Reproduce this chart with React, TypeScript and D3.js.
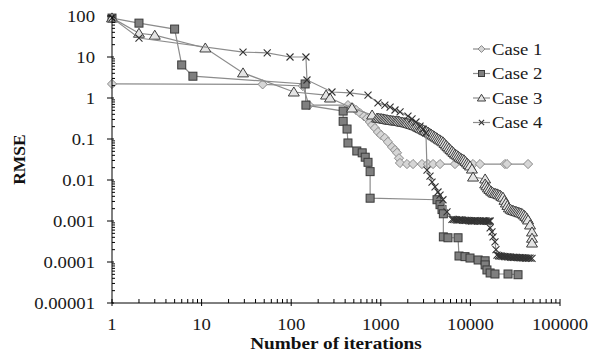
import React, { useEffect, useRef } from 'react';
import * as d3 from 'd3';

// [iterations, RMSE]
const case1: [number, number][] = [
  [1, 2.2], [48, 2.15], [135, 1.96], [158, 0.67], [430, 0.67], [477, 0.6], [530, 0.51],
  [586, 0.43], [650, 0.36], [700, 0.32], [757, 0.26], [800, 0.22], [861, 0.185], [930, 0.148],
  [1005, 0.125], [1110, 0.106], [1200, 0.085], [1333, 0.064], [1440, 0.054], [1516, 0.046],
  [1596, 0.034], [1637, 0.026], [1960, 0.0245], [2290, 0.0245], [2880, 0.0245], [3360, 0.0245],
  [3830, 0.0245], [4580, 0.0245], [6730, 0.0245], [10700, 0.0245], [12800, 0.0245],
  [24300, 0.0245], [25600, 0.0245], [44000, 0.0245],
];

const case2: [number, number][] = [
  [1, 89], [2, 67], [5, 48], [6, 6.4], [8, 3.4], [143, 2.2], [146, 0.67], [380, 0.48],
  [380, 0.27], [420, 0.175], [430, 0.08], [540, 0.051], [620, 0.046], [670, 0.036],
  [720, 0.027], [760, 0.016], [760, 0.0036], [4240, 0.0033], [4580, 0.0025], [4820, 0.0019],
  [4990, 0.0015], [4990, 0.00041], [5620, 0.00039], [7280, 0.00039], [7460, 0.00014],
  [8710, 0.000135], [9900, 0.000125], [12200, 0.000112], [14600, 0.000107], [14600, 0.000085],
  [15300, 0.000064], [16600, 0.000054], [18800, 0.000051], [26300, 0.000051], [34000, 0.000049],
];

const case3: [number, number][] = [
  [1, 90], [2, 38], [3, 34], [11, 16.6], [29, 4.1], [107, 1.4], [245, 1.18], [271, 1.0],
  [477, 0.57], [800, 0.385], [907, 0.325], [940, 0.322], [980, 0.318], [1020, 0.314],
  [1060, 0.31], [1100, 0.305], [1140, 0.3], [1185, 0.295], [1230, 0.29], [1280, 0.286],
  [1330, 0.283], [1385, 0.279], [1440, 0.275], [1500, 0.275], [1560, 0.275], [1620, 0.268],
  [1680, 0.26], [1750, 0.257], [1820, 0.253], [1890, 0.249], [1960, 0.245], [2040, 0.238],
  [2120, 0.232], [2200, 0.226], [2290, 0.22], [2380, 0.213], [2480, 0.207], [2580, 0.198],
  [2680, 0.19], [2780, 0.182], [2890, 0.175], [3000, 0.167], [3120, 0.16], [3240, 0.154],
  [3370, 0.148], [3500, 0.14], [3650, 0.132], [3790, 0.125], [3940, 0.118], [4090, 0.112],
  [4250, 0.106], [4410, 0.1], [4580, 0.095], [4760, 0.09], [4950, 0.085], [5150, 0.078],
  [5350, 0.071], [5560, 0.065], [5780, 0.06], [6000, 0.055], [6240, 0.051], [6490, 0.047],
  [6740, 0.043], [7000, 0.041], [7280, 0.0385], [7570, 0.036], [7860, 0.034], [8170, 0.0325],
  [8490, 0.031], [8820, 0.0285], [9170, 0.026], [9530, 0.024], [9900, 0.022], [10400, 0.0185],
  [10700, 0.0118], [14600, 0.0106], [14600, 0.008], [15100, 0.0072], [15700, 0.0064],
  [16300, 0.0059], [17000, 0.0054], [17600, 0.0051], [18300, 0.0048], [19000, 0.0047],
  [19800, 0.0046], [20600, 0.0044], [21400, 0.0043], [22200, 0.004], [23100, 0.0038],
  [24000, 0.0032], [24900, 0.00275], [25900, 0.0024], [26900, 0.0021], [28000, 0.00195],
  [29100, 0.00185], [30200, 0.0018], [31400, 0.00175], [32600, 0.0017], [33900, 0.00166],
  [35200, 0.0016], [36600, 0.00157], [38100, 0.0015], [39600, 0.0014], [41100, 0.0013],
  [42700, 0.00118], [44000, 0.00106], [46300, 0.0008], [48700, 0.00054], [48700, 0.00038],
  [48700, 0.00029],
];

const case4: [number, number][] = [
  [1, 90], [2, 29], [29, 13.2], [54, 12.6], [97, 10], [146, 10], [150, 2.75], [285, 1.4],
  [453, 1.33], [720, 1.18], [930, 0.76], [1110, 0.67], [1270, 0.6], [1440, 0.51], [1640, 0.46],
  [2010, 0.36], [2230, 0.31], [2470, 0.26], [2740, 0.207], [2960, 0.175], [3190, 0.14],
  [3280, 0.0175], [3540, 0.0125], [3730, 0.0089], [4030, 0.0068], [4350, 0.0051], [4580, 0.0043],
  [4940, 0.0033], [5480, 0.00166], [6230, 0.0011], [6480, 0.00109], [6740, 0.00108],
  [7000, 0.00106], [7280, 0.00105], [7570, 0.00106], [7860, 0.00107], [8170, 0.00105],
  [8490, 0.00104], [8820, 0.00103], [9170, 0.00103], [9530, 0.00102], [9900, 0.00101],
  [10300, 0.001], [10700, 0.001], [11100, 0.00101], [11500, 0.00102], [12000, 0.00101],
  [12500, 0.001], [13000, 0.00099], [13500, 0.00099], [14000, 0.001], [14600, 0.001],
  [15100, 0.00099], [15700, 0.00098], [16100, 0.00099], [16600, 0.001], [16600, 0.00068],
  [17400, 0.00054], [17900, 0.00041], [18800, 0.00031], [19300, 0.0002], [19800, 0.000148],
  [20600, 0.000142], [21400, 0.00014], [22200, 0.000139], [23100, 0.000138], [24000, 0.000136],
  [24900, 0.000135], [25900, 0.000134], [26900, 0.000133], [28000, 0.000131], [29100, 0.00013],
  [30200, 0.00013], [31400, 0.00013], [32600, 0.000129], [33900, 0.000128], [35200, 0.000128],
  [36600, 0.000127], [38100, 0.000126], [39600, 0.000126], [41100, 0.000125], [42700, 0.000125],
  [44500, 0.000125], [46300, 0.000125], [48700, 0.000122],
];

const seriesNames = ['Case 1', 'Case 2', 'Case 3', 'Case 4'];
const xTicks = [1, 10, 100, 1000, 10000, 100000];
const xTickLabels = ['1', '10', '100', '1000', '10000', '100000'];
const yTicks = [1e-5, 1e-4, 1e-3, 1e-2, 0.1, 1, 10, 100];
const yTickLabels = ['0.00001', '0.0001', '0.001', '0.01', '0.1', '1', '10', '100'];

const FONT = "'Liberation Serif', 'Tinos', 'Times New Roman', 'DejaVu Serif', serif";
const STRETCH = 1.1;

const drawMarker = (g, kind, s = 1) => {
  if (kind === 'diamond') {
    const r = 4.6 * s;
    g.append('path').attr('d', `M0,${-r}L${r},0L0,${r}L${-r},0Z`)
      .attr('fill', '#d6d6d6').attr('stroke', '#8a8a8a').attr('stroke-width', 1);
  } else if (kind === 'square') {
    const h = 4 * s;
    g.append('rect').attr('x', -h).attr('y', -h).attr('width', 2 * h).attr('height', 2 * h)
      .attr('fill', '#7f7f7f').attr('stroke', '#3a3a3a').attr('stroke-width', 1);
  } else if (kind === 'triangle') {
    const w = 5.5 * s, t = 5 * s, b = 4 * s;
    g.append('path').attr('d', `M0,${-t}L${w},${b}L${-w},${b}Z`)
      .attr('fill', '#e4e4e4').attr('stroke', '#3e3e3e').attr('stroke-width', 1);
  } else {
    const r = 3.5 * s;
    g.append('path').attr('d', `M${-r},${-r}L${r},${r}M${-r},${r}L${r},${-r}`)
      .attr('fill', 'none').attr('stroke', '#333').attr('stroke-width', 1.1);
  }
};

const App = () => {
  const ref = useRef<SVGSVGElement>(null);

  useEffect(() => {
    const svg = d3.select(ref.current);
    svg.selectAll('*').remove();

    const left = 112, right = 560, top = 16, bottom = 303;
    const x = d3.scaleLog().domain([1, 1e5]).range([left, right]);
    const y = d3.scaleLog().domain([1e-5, 100]).range([bottom, top]);

    const series = [
      { data: case1, kind: 'diamond' },
      { data: case2, kind: 'square' },
      { data: case3, kind: 'triangle' },
      { data: case4, kind: 'cross' },
    ];

    const line = d3.line<[number, number]>().x(d => x(d[0])).y(d => y(d[1]));

    series.forEach(s => {
      svg.append('path').datum(s.data).attr('d', line)
        .attr('fill', 'none').attr('stroke', '#8c8c8c').attr('stroke-width', 1.2);
      s.data.forEach(d => {
        const g = svg.append('g').attr('transform', `translate(${x(d[0])},${y(d[1])})`);
        drawMarker(g, s.kind);
      });
    });

    const txt = (sel, size, weight = 400) => sel
      .style('font-family', FONT).style('font-size', `${size}px`).style('font-weight', weight);

    // axes
    const axis = svg.append('g').attr('stroke', '#000').attr('stroke-width', 1);
    axis.append('line').attr('x1', left).attr('x2', left).attr('y1', top).attr('y2', bottom);
    axis.append('line').attr('x1', left).attr('x2', right).attr('y1', bottom).attr('y2', bottom);

    yTicks.forEach((t, i) => {
      axis.append('line').attr('x1', left - 5).attr('x2', left + 2).attr('y1', y(t)).attr('y2', y(t));
      if (i < yTicks.length - 1) {
        for (let m = 2; m < 10; m++) {
          const v = t * m;
          axis.append('line').attr('x1', left).attr('x2', left + 3).attr('y1', y(v)).attr('y2', y(v));
        }
      }
      txt(svg.append('text'), 17)
        .attr('transform', `translate(${left - 17},${y(t)}) scale(${STRETCH},1)`)
        .attr('dy', '0.35em').attr('text-anchor', 'end').attr('fill', '#1a1a1a')
        .text(yTickLabels[i]);
    });

    xTicks.forEach((t, i) => {
      axis.append('line').attr('x1', x(t)).attr('x2', x(t)).attr('y1', bottom - 4).attr('y2', bottom + 3);
      if (i < xTicks.length - 1) {
        for (let m = 2; m < 10; m++) {
          const v = t * m;
          axis.append('line').attr('x1', x(v)).attr('x2', x(v)).attr('y1', bottom - 4).attr('y2', bottom);
        }
      }
      txt(svg.append('text'), 17)
        .attr('transform', `translate(${x(t)},${bottom + 27}) scale(${STRETCH},1)`)
        .attr('text-anchor', 'middle').attr('fill', '#1a1a1a')
        .text(xTickLabels[i]);
    });

    // axis titles
    txt(svg.append('text'), 17.5, 700)
      .attr('transform', `translate(${(left + right) / 2},${bottom + 46}) scale(${STRETCH},1)`)
      .attr('text-anchor', 'middle').attr('fill', '#111').text('Number of iterations');
    txt(svg.append('text'), 17.5, 700)
      .attr('transform', `translate(25,${(top + bottom) / 2}) rotate(-90)`)
      .attr('text-anchor', 'middle').attr('fill', '#111').text('RMSE');

    // legend
    series.forEach((s, i) => {
      const ly = 49 + i * 24.5;
      svg.append('line').attr('x1', 473).attr('x2', 490).attr('y1', ly).attr('y2', ly)
        .attr('stroke', '#8c8c8c').attr('stroke-width', 1.2);
      const g = svg.append('g').attr('transform', `translate(481.5,${ly})`);
      drawMarker(g, s.kind, 0.75);
      txt(svg.append('text'), 17)
        .attr('transform', `translate(492,${ly}) scale(${STRETCH},1)`)
        .attr('dy', '0.35em').attr('fill', '#1a1a1a')
        .text(seriesNames[i]);
    });
  }, []);

  return (
    <svg ref={ref} width={600} height={358}
      style={{ position: 'absolute', left: 0, top: 0, background: '#fff' }}></svg>
  );
};

export default App;
